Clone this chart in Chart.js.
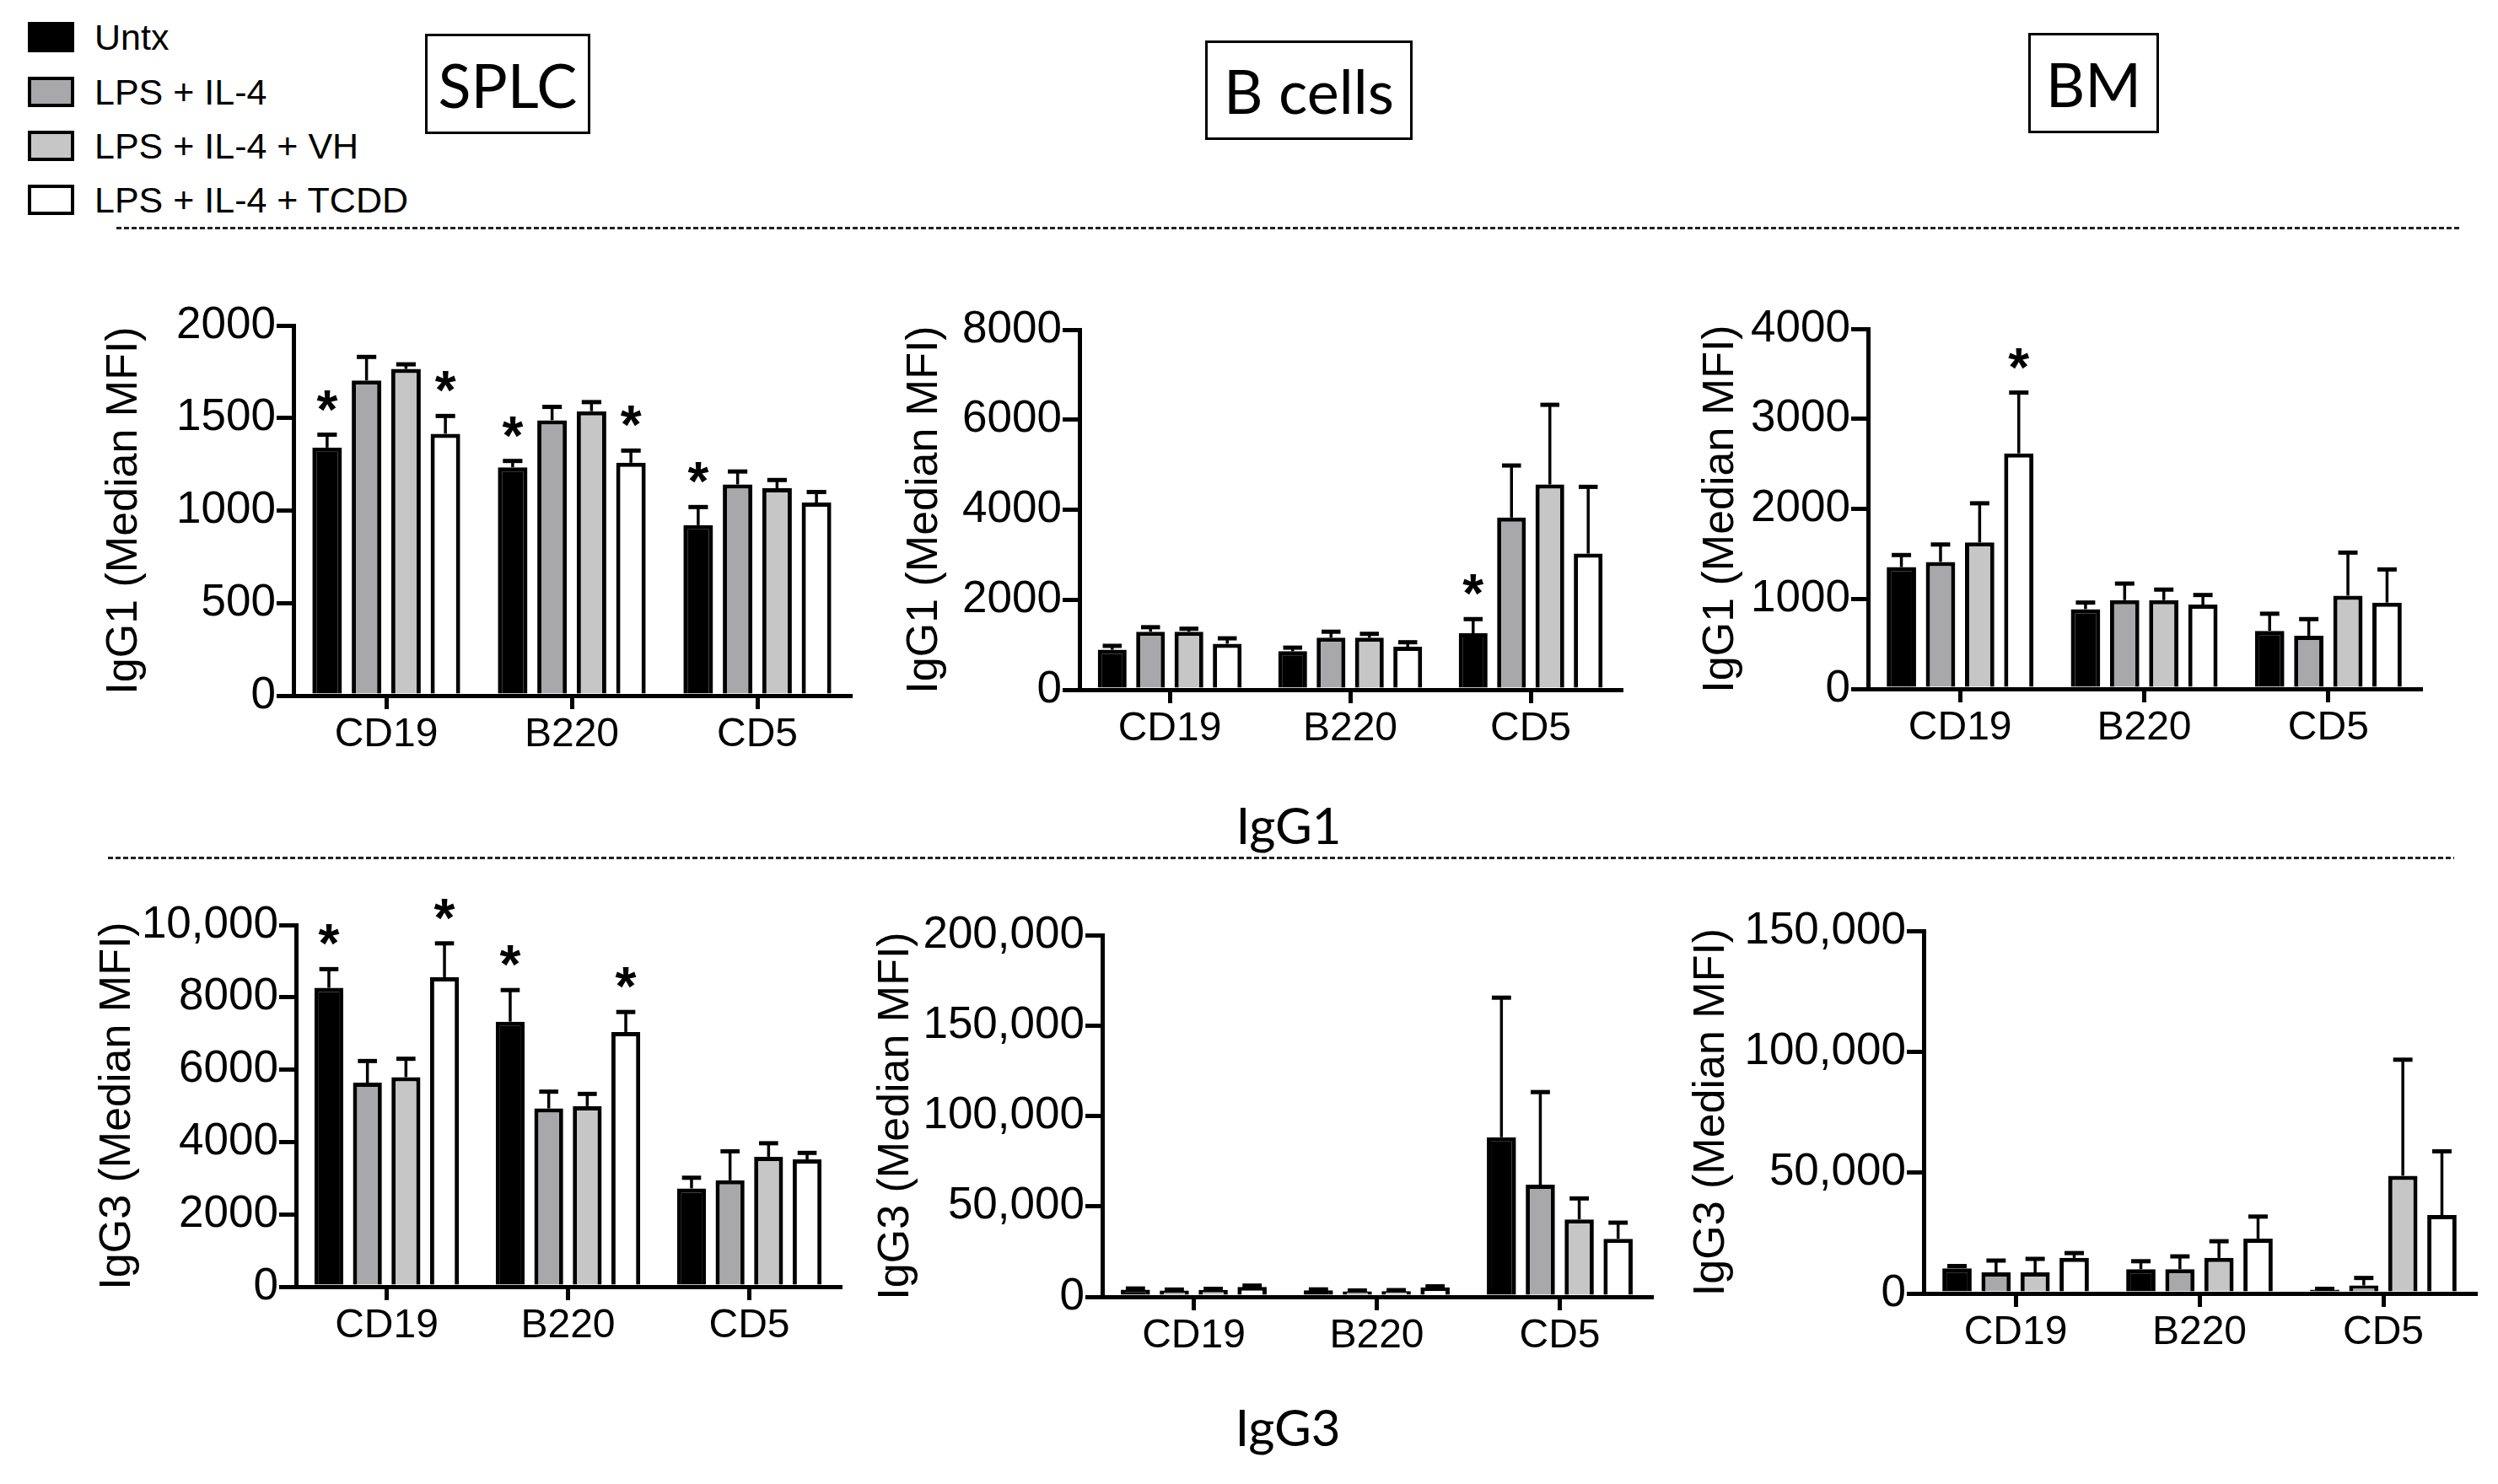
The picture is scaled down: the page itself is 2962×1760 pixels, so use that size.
<!DOCTYPE html>
<html>
<head>
<meta charset="utf-8">
<script src="https://cdn.jsdelivr.net/npm/chart.js@4.4.1/dist/chart.umd.min.js"></script>
<style>
    body { margin: 0; width: 2962px; height: 1760px; background: #fff; position: relative; overflow: hidden;
           font-family: "Liberation Sans", Arial, sans-serif; color: #000; }
    .abs { position: absolute; }
    .swatch { position: absolute; left: 33px; width: 47px; height: 28px; border: 4px solid #000; }
    .legtext { position: absolute; left: 112px; font-size: 43px; line-height: 36px; }
    .tbox { position: absolute; border: 3px solid #000; background: #fff; font-family: Lato, "Open Sans", sans-serif;
            font-size: 72px; display: flex; align-items: center; justify-content: center; box-sizing: border-box; }
    .dots { position: absolute; height: 3px;
            background: repeating-linear-gradient(90deg, #222 0 6px, transparent 6px 9px); }
    .iglabel { position: absolute; font-family: Lato, "Open Sans", sans-serif; font-size: 60px; transform: translate(-50%, -50%); }
</style>
</head>
<body>

<div class="swatch" style="top:26px; background:#000"></div>
<div class="legtext" style="top:26px">Untx</div>
<div class="swatch" style="top:91px; background:#a8a8aa"></div>
<div class="legtext" style="top:91px">LPS + IL-4</div>
<div class="swatch" style="top:155px; background:#c6c6c6"></div>
<div class="legtext" style="top:155px">LPS + IL-4 + VH</div>
<div class="swatch" style="top:219px; background:#fff"></div>
<div class="legtext" style="top:219px">LPS + IL-4 + TCDD</div>

<div class="tbox" style="left:504px; top:40px; width:196px; height:119px">SPLC</div>
<div class="tbox" style="left:1429px; top:48px; width:246px; height:118px">B cells</div>
<div class="tbox" style="left:2405px; top:39px; width:155px; height:119px">BM</div>

<div class="dots" style="left:138px; top:269px; width:2781px"></div>
<div class="dots" style="left:128px; top:1016px; width:2782px"></div>

<div class="iglabel" style="left:1528px; top:978px">IgG1</div>
<div class="iglabel" style="left:1527px; top:1692px">IgG3</div>

<script>
const markers = ['CD19', 'B220', 'CD5']
const groups = ['Untx', 'LPS + IL-4', 'LPS + IL-4 + VH', 'LPS + IL-4 + TCDD']
const groupColors = ['#000000', '#a8a8aa', '#c6c6c6', '#ffffff']

// each row is one treatment group, values for CD19, B220, CD5
const splcIgG1 = [[1340, 1234, 921], [1703, 1488, 1141], [1765, 1537, 1121], [1415, 1258, 1043]]
const splcIgG1Err = [[70, 34, 98], [127, 72, 70], [25, 49, 44], [96, 66, 57]]
const splcIgG1Stars = [[1, 1, 1], [0, 0, 0], [0, 0, 0], [1, 1, 0]]

const bIgG1 = [[888, 855, 1255], [1289, 1155, 3826], [1289, 1155, 4561], [1022, 955, 3025]]
const bIgG1Err = [[87, 80, 314], [100, 134, 1156], [67, 87, 1770], [120, 100, 1483]]
const bIgG1Stars = [[0, 0, 1], [0, 0, 0], [0, 0, 0], [0, 0, 0]]

const bmIgG1 = [[1353, 886, 645], [1410, 986, 591], [1627, 986, 1036], [2617, 936, 959]]
const bmIgG1Err = [[134, 73, 190], [194, 184, 184], [435, 117, 478], [675, 107, 368]]
const bmIgG1Stars = [[0, 0, 0], [0, 0, 0], [0, 0, 0], [1, 0, 0]]

const splcIgG3 = [[8262, 7326, 2718], [5642, 4929, 2941], [5793, 4991, 3592], [8556, 7041, 3520]]
const splcIgG3Err = [[517, 874, 294], [597, 463, 802], [508, 339, 374], [936, 553, 179]]
const splcIgG3Stars = [[1, 1, 0], [0, 0, 0], [0, 0, 0], [1, 1, 0]]

const bIgG3 = [[4000, 3600, 88200], [3500, 3000, 62000], [3800, 3200, 42800], [5500, 5200, 32100]]
const bIgG3Err = [[600, 500, 77200], [500, 500, 51200], [600, 500, 11600], [700, 600, 8900]]
const bIgG3Stars = [[0, 0, 0], [0, 0, 0], [0, 0, 0], [0, 0, 0]]

const bmIgG3 = [[10400, 10000, 1600], [8700, 10000, 3300], [8700, 14700, 48700], [14700, 22700, 32400]]
const bmIgG3Err = [[930, 3330, 300], [4900, 5330, 3100], [5600, 6900, 48000], [2000, 9100, 26400]]
const bmIgG3Stars = [[0, 0, 0], [0, 0, 0], [0, 0, 0], [0, 0, 0]]

// prism style: commas only from 10,000 up
const fmtTick = v => v >= 10000 ? v.toLocaleString('en-US') : String(v)

// upper SEM bars and significance stars, drawn from the y scale
const errorBars = {
    id: 'errorBars',
    afterDatasetsDraw(chart) {
        const ctx = chart.ctx
        const y = chart.scales.y
        ctx.save()
        ctx.strokeStyle = '#000'
        ctx.fillStyle = '#000'
        chart.data.datasets.forEach((ds, i) => {
            chart.getDatasetMeta(i).data.forEach((bar, j) => {
                const top = y.getPixelForValue(ds.data[j] + ds.errors[j])
                const half = bar.width * 0.33
                ctx.lineWidth = 3.5
                ctx.beginPath()
                ctx.moveTo(bar.x, bar.y)
                ctx.lineTo(bar.x, top)
                ctx.stroke()
                ctx.lineWidth = 5
                ctx.beginPath()
                ctx.moveTo(bar.x - half, top)
                ctx.lineTo(bar.x + half, top)
                ctx.stroke()
                if (ds.stars[j]) {
                    ctx.font = 'bold 64px "Liberation Sans", Arial'
                    ctx.textAlign = 'center'
                    ctx.textBaseline = 'alphabetic'
                    ctx.fillText('*', bar.x, top - 8)
                }
            })
        })
        ctx.restore()
    }
}

function makeChart(pos, yMax, yStep, yTitle, values, errors, stars) {
    const titleSize = 52
    const left = Math.round(pos.titleX - titleSize * 1.2 / 2)
    const top = pos.topY - 40
    const width = pos.right + 20 - left
    const xHeight = 100
    const height = pos.zeroY - top + xHeight

    const wrap = document.createElement('div')
    wrap.className = 'abs'
    wrap.style.left = left + 'px'
    wrap.style.top = top + 'px'
    const canvas = document.createElement('canvas')
    canvas.width = width
    canvas.height = height
    canvas.style.width = width + 'px'
    canvas.style.height = height + 'px'
    wrap.appendChild(canvas)
    document.body.appendChild(wrap)

    const datasets = groups.map((g, i) => ({
        label: g,
        data: values[i],
        errors: errors[i],
        stars: stars[i],
        backgroundColor: groupColors[i],
        borderColor: '#000',
        borderWidth: 5,
        categoryPercentage: 0.85,
        barPercentage: 0.75
    }))

    return new Chart(canvas, {
        type: 'bar',
        data: { labels: markers, datasets },
        options: {
            responsive: false,
            animation: false,
            devicePixelRatio: 1,
            layout: { padding: { top: 40, right: 20, left: 0, bottom: 0 } },
            plugins: { legend: { display: false }, tooltip: { enabled: false } },
            scales: {
                x: {
                    z: 1,
                    offset: true,
                    grid: { offset: false, drawOnChartArea: false, color: '#000', lineWidth: 5, tickLength: 16 },
                    border: { color: '#000', width: 5 },
                    ticks: { color: '#000', padding: 2, font: { size: 48, family: '"Liberation Sans", Arial' } },
                    afterFit: s => { s.height = xHeight }
                },
                y: {
                    z: 1,
                    min: 0,
                    max: yMax,
                    grid: { drawOnChartArea: false, color: '#000', lineWidth: 5, tickLength: 20 },
                    border: { color: '#000', width: 5 },
                    ticks: { stepSize: yStep, color: '#000', padding: 1, callback: fmtTick,
                             font: { size: 53, family: '"Liberation Sans", Arial' } },
                    title: { display: true, text: yTitle, color: '#000', padding: 0,
                             font: { size: titleSize, family: '"Liberation Sans", Arial' } },
                    afterFit: s => { s.width = pos.axisX - left }
                }
            }
        },
        plugins: [errorBars]
    })
}

makeChart({ axisX: 348, topY: 386, zeroY: 825, right: 1008, titleX: 147 }, 2000, 500,
    'IgG1 (Median MFI)', splcIgG1, splcIgG1Err, splcIgG1Stars)
makeChart({ axisX: 1280, topY: 391, zeroY: 818, right: 1922, titleX: 1096 }, 8000, 2000,
    'IgG1 (Median MFI)', bIgG1, bIgG1Err, bIgG1Stars)
makeChart({ axisX: 2215, topY: 390, zeroY: 817, right: 2870, titleX: 2040 }, 4000, 1000,
    'IgG1 (Median MFI)', bmIgG1, bmIgG1Err, bmIgG1Stars)
makeChart({ axisX: 351, topY: 1097, zeroY: 1526, right: 996, titleX: 139 }, 10000, 2000,
    'IgG3 (Median MFI)', splcIgG3, splcIgG3Err, splcIgG3Stars)
makeChart({ axisX: 1307, topY: 1109, zeroY: 1538, right: 1958, titleX: 1062 }, 200000, 50000,
    'IgG3 (Median MFI)', bIgG3, bIgG3Err, bIgG3Stars)
makeChart({ axisX: 2281, topY: 1104, zeroY: 1534, right: 2935, titleX: 2029 }, 150000, 50000,
    'IgG3 (Median MFI)', bmIgG3, bmIgG3Err, bmIgG3Stars)
</script>
</body>
</html>
